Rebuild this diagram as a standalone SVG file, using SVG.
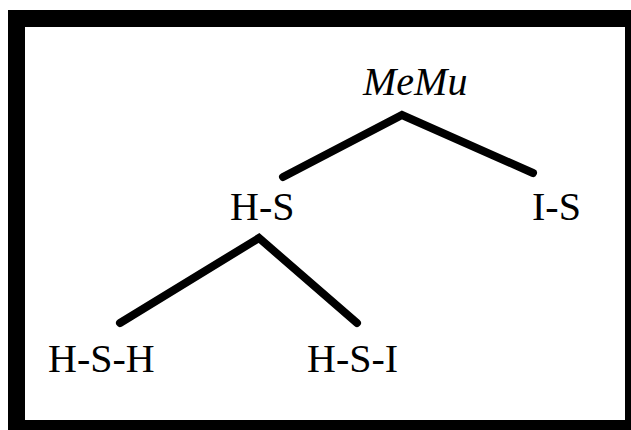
<svg xmlns="http://www.w3.org/2000/svg" width="631" height="430" viewBox="0 0 631 430">
  <style>
    .label { font-family: "Liberation Serif", "Times New Roman", serif; font-size: 40px; fill: #000; }
    .italic { font-style: italic; }
    .edge { fill: none; stroke: #000; stroke-width: 8; stroke-linecap: round; stroke-linejoin: miter; }
  </style>
  <rect x="0" y="0" width="631" height="430" fill="#fff"/>
  <!-- heavy frame -->
  <rect x="8" y="10" width="623" height="420" fill="#000"/>
  <rect x="25" y="27" width="600" height="393" fill="#fff"/>

  <g id="connectors">
    <polyline class="edge" points="283,177 402,115 533,173"/>
    <polyline class="edge" points="120,323 259,238 357,323"/>
  </g>

  <g id="node-memu"><text class="label italic" x="363" y="95">MeMu</text></g>
  <g id="node-hs"><text class="label" x="230" y="220">H-S</text></g>
  <g id="node-is"><text class="label" x="532" y="220">I-S</text></g>
  <g id="node-hsh"><text class="label" x="48" y="372">H-S-H</text></g>
  <g id="node-hsi"><text class="label" x="307" y="372">H-S-I</text></g>
</svg>
